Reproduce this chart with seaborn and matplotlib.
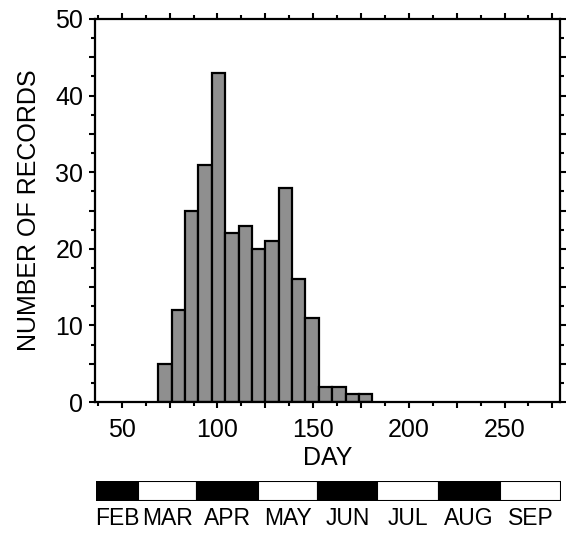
import numpy as np
import pandas as pd
import matplotlib
matplotlib.use("Agg")
import matplotlib.pyplot as plt
from matplotlib.ticker import MultipleLocator, FuncFormatter
import seaborn as sns

# ---- data ----
counts = [5, 12, 25, 31, 43, 22, 23, 20, 21, 28, 16, 11, 2, 2, 1, 1]
bin_start = 69
bin_width = 7
months = ["FEB", "MAR", "APR", "MAY", "JUN", "JUL", "AUG", "SEP"]
month_bounds = [27, 58, 89, 120.5, 152, 183, 215, 247, 279]
x_labels = [50, 100, 150, 200, 250]
y_labels = [0, 10, 20, 30, 40, 50]

edges = [bin_start + bin_width * i for i in range(len(counts) + 1)]
centers = [(edges[i] + edges[i + 1]) / 2 for i in range(len(counts))]
df = pd.DataFrame({"day": centers, "n": counts})

sns.set_style("ticks")
plt.rcParams["font.family"] = ["Liberation Sans", "DejaVu Sans"]
plt.rcParams["text.color"] = "black"
plt.rcParams["axes.labelcolor"] = "black"

W, H = 568, 535
fig = plt.figure(figsize=(W / 100, H / 100), dpi=100)
ax = fig.add_axes([95 / W, 1 - 402 / H, (560 - 95) / W, (402 - 19) / H])

sns.histplot(data=df, x="day", weights="n", bins=edges, color="#8f8f8f",
             edgecolor="black", linewidth=1.6, alpha=1, ax=ax)

XMIN, XMAX = 36, 279
ax.set_xlim(XMIN, XMAX)
ax.set_ylim(0, 50)

ax.xaxis.set_major_locator(MultipleLocator(25))
ax.xaxis.set_minor_locator(MultipleLocator(12.5))
ax.xaxis.set_major_formatter(FuncFormatter(lambda v, p: f"{v:.0f}" if round(v) in x_labels else ""))
ax.yaxis.set_major_locator(MultipleLocator(5))
ax.yaxis.set_minor_locator(MultipleLocator(2.5))
ax.yaxis.set_major_formatter(FuncFormatter(lambda v, p: f"{v:.0f}" if round(v) in y_labels else ""))

ax.tick_params(which="both", direction="out", top=True, right=True,
               labeltop=False, labelright=False, width=1.5, color="black",
               labelsize=18, labelcolor="black")
ax.tick_params(which="major", length=4.5, pad=4)
ax.tick_params(which="minor", length=2.8)
ax.tick_params(axis="x", which="major", pad=7)

for s in ax.spines.values():
    s.set_linewidth(1.6)
    s.set_color("black")
    s.set_visible(True)

ax.set_xlabel("DAY", fontsize=18, labelpad=3, color="black")
ax.set_ylabel("NUMBER OF RECORDS", fontsize=18, labelpad=10, color="black")

# ---- month bar ----
axm = fig.add_axes([96 / W, 1 - 501 / H, (561 - 96) / W, 20 / H])
lefts = month_bounds[:-1]
widths = [month_bounds[i + 1] - month_bounds[i] for i in range(len(months))]
colors = ["black" if i % 2 == 0 else "white" for i in range(len(months))]
axm.barh([0] * len(months), widths, left=lefts, height=1, color=colors,
         edgecolor="black", linewidth=1.5)
axm.set_xlim(XMIN, XMAX)
axm.set_ylim(-0.5, 0.5)
axm.axis("off")

for i, m in enumerate(months):
    lo = max(month_bounds[i], XMIN)
    hi = min(month_bounds[i + 1], XMAX)
    axm.text((lo + hi) / 2, -0.8, m, ha="center", va="top", fontsize=16.5,
             color="black", family=["Liberation Sans", "DejaVu Sans"], clip_on=False)

fig.savefig("out.png", dpi=100)
